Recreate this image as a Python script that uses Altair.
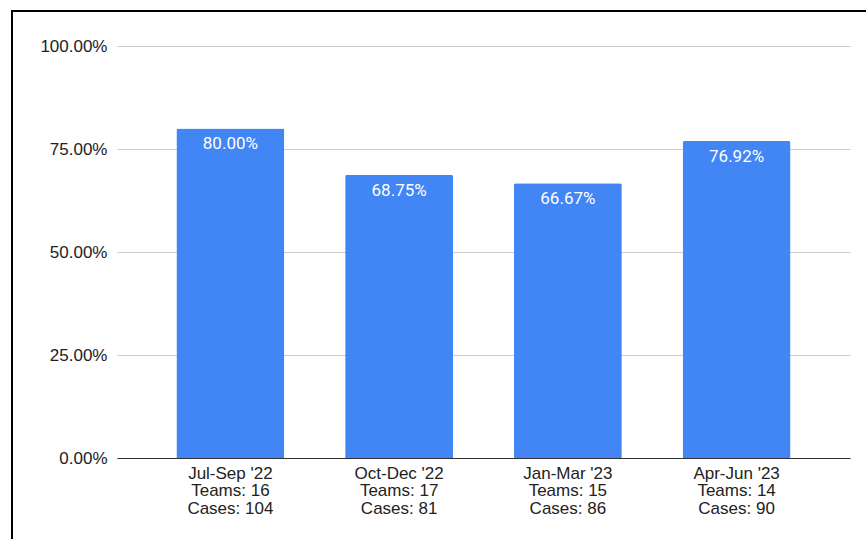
import altair as alt
import pandas as pd

periods = ["Jul-Sep '22", "Oct-Dec '22", "Jan-Mar '23", "Apr-Jun '23"]
teams = [16, 17, 15, 14]
cases = [104, 81, 86, 90]
rates = [0.80, 0.6875, 0.6667, 0.7692]

df = pd.DataFrame({
    "period": periods,
    "teams": teams,
    "cases": cases,
    "rate": rates,
})
df["label"] = [f"{p}|Teams: {t}|Cases: {c}" for p, t, c in zip(periods, teams, cases)]

x_enc = alt.X(
    "label:N",
    sort=None,
    title=None,
    scale=alt.Scale(paddingInner=0.36, paddingOuter=0.352),
    axis=alt.Axis(
        labelExpr="split(datum.label, '|')",
        labelAngle=0,
        labelFont="Arial, Liberation Sans",
        labelFontSize=17,
        labelLineHeight=17.5,
        labelColor="#222222",
        labelPadding=7,
        ticks=False,
        domainColor="#333333",
        domainWidth=1,
        grid=False,
    ),
)

y_enc = alt.Y(
    "rate:Q",
    title=None,
    scale=alt.Scale(domain=[0, 1], nice=False),
    axis=alt.Axis(
        values=[0, 0.25, 0.5, 0.75, 1.0],
        format=".2%",
        labelFont="Arial, Liberation Sans",
        labelFontSize=17,
        labelColor="#222222",
        labelPadding=10,
        ticks=False,
        domain=False,
        gridColor="#cccccc",
        gridWidth=1,
    ),
)

base = alt.Chart(df)

bars = base.mark_bar(
    color="#4285F4",
    cornerRadiusTopLeft=2,
    cornerRadiusTopRight=2,
).encode(x=x_enc, y=y_enc)

texts = base.mark_text(
    color="white",
    font="Roboto",
    fontSize=17,
    baseline="top",
    align="center",
    dy=8,
).encode(
    x=alt.X("label:N", sort=None),
    y=alt.Y("rate:Q"),
    text=alt.Text("rate:Q", format=".2%"),
)

frame = alt.Chart(alt.Data(values=[{}]))
left_border = frame.mark_rule(color="black", strokeWidth=2).encode(
    x=alt.value(-105), y=alt.value(-35), y2=alt.value(600)
)
top_border = frame.mark_rule(color="black", strokeWidth=2).encode(
    x=alt.value(-106), x2=alt.value(800), y=alt.value(-35)
)

chart = alt.layer(bars, texts, left_border, top_border).properties(
    width=733,
    height=412,
    autosize=alt.AutoSizeParams(type="none"),
    padding={"left": 117, "top": 46, "right": 16, "bottom": 81},
    background="white",
).configure_view(stroke=None)

chart.save("out.html", embed_options={"renderer": "svg", "actions": False})
